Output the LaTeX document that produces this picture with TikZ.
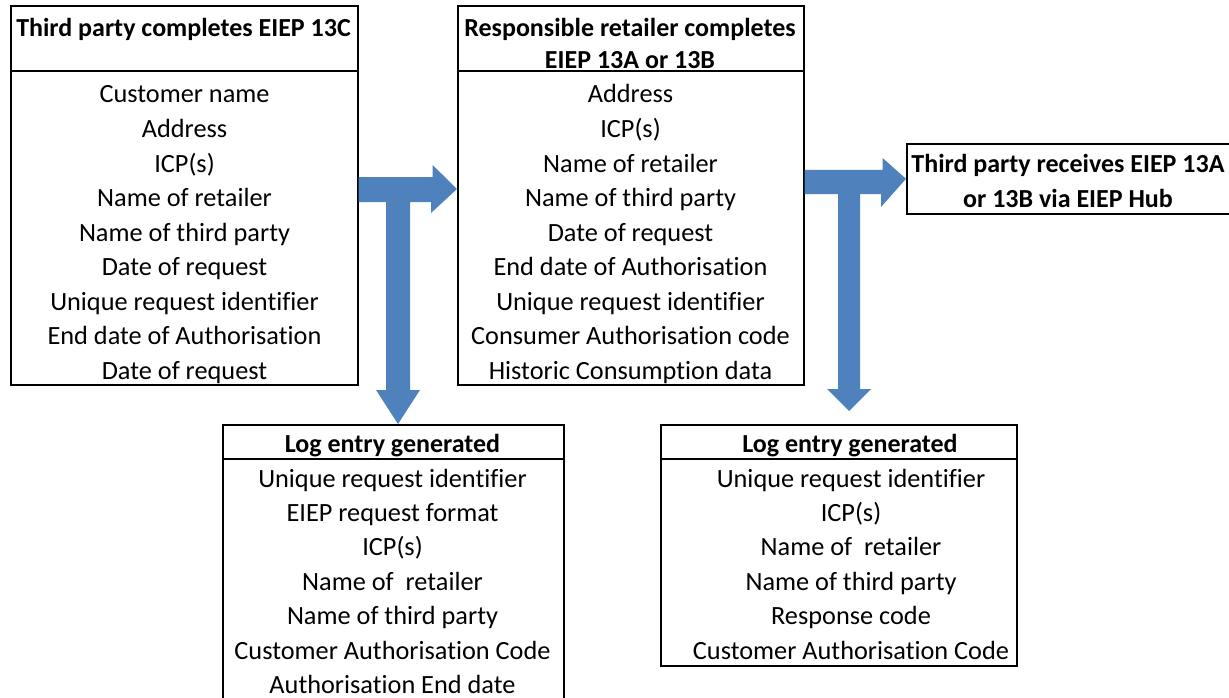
\documentclass[tikz,border=0pt]{standalone}
\usepackage{fontspec}
\setmainfont[Ligatures=NoCommon]{Carlito}
\definecolor{flowblue}{HTML}{4F81BD}
\begin{document}
\begin{tikzpicture}[x=1pt,y=-1pt,
  box/.style={draw,line width=1.6pt,inner sep=0pt,anchor=north west},
  item/.style={anchor=base,inner sep=0pt,font=\fontsize{26.3}{31}\selectfont},
  head/.style={item,font=\fontsize{26}{31}\selectfont\bfseries},
  sep/.style={line width=1.6pt},
  flow/.style={fill=flowblue,draw=none}]
\useasboundingbox (0,0) rectangle (1229,698);
\clip (0,0) rectangle (1229,698);

% request form filled in by the third party
\node[box,minimum width=347pt,minimum height=379pt] (b1) at (10,5) {};
\draw[sep] (10,71) -- (357,71);
\node[head] (h1) at (183.5,37) {Third party completes EIEP 13C};
\foreach \t [count=\i] in {Customer name,Address,ICP(s),Name of retailer,Name of third party,Date of request,Unique request identifier,End date of Authorisation,Date of request}
  \node[item] (b1-\i) at (184.5,{103+34.5*(\i-1)}) {\t};

% response filled in by the retailer
\node[box,minimum width=346pt,minimum height=379pt] (b2) at (457,5) {};
\draw[sep] (457,71) -- (803,71);
\node[head] (h2a) at (630,37) {Responsible retailer completes};
\node[head] (h2b) at (630,69) {EIEP 13A or 13B};
\foreach \t [count=\i] in {Address,ICP(s),Name of retailer,Name of third party,Date of request,End date of Authorisation,Unique request identifier,Consumer Authorisation code,Historic Consumption data}
  \node[item] (b2-\i) at (630.5,{103+34.5*(\i-1)}) {\t};

% delivery to the third party
\node[box,minimum width=330pt,minimum height=70pt] (b3) at (906,143) {};
\node[head] (h3a) at (1068,172) {Third party receives EIEP 13A};
\node[head] (h3b) at (1068,207) {or 13B via EIEP Hub};

% log entry for the request
\node[box,minimum width=341pt,minimum height=290pt] (b4) at (222,424) {};
\draw[sep] (222,459) -- (563,459);
\node[head] (h4) at (392.5,452) {Log entry generated};
\foreach \t [count=\i] in {Unique request identifier,EIEP request format,ICP(s),Name of~ retailer,Name of third party,Customer Authorisation Code,Authorisation End date}
  \node[item] (b4-\i) at (392.5,{487+34.4*(\i-1)}) {\t};

% log entry for the response
\node[box,minimum width=356pt,minimum height=241pt] (b5) at (660,424) {};
\draw[sep] (660,459) -- (1016,459);
\node[head] (h5) at (850,452) {Log entry generated};
\foreach \t [count=\i] in {Unique request identifier,ICP(s),Name of~ retailer,Name of third party,Response code,Customer Authorisation Code}
  \node[item] (b5-\i) at (851,{487+34.4*(\i-1)}) {\t};

% T-shaped arrow: request form -> retailer, and down to the request log
\fill[flow] (b1.north east) ++(0,172) -- ++(74,0) -- ++(0,-12) -- (b2.west |- 0,189)
  -- (431,213) -- ++(0,-11) -- ++(-21,0) -- ++(0,188) -- ++(10,0) -- (b4.north -| 398,413)
  -- (376,390) -- ++(10,0) -- ++(0,-188) -- (b1.east |- 0,202) -- cycle;

% T-shaped arrow: retailer -> third party, and down to the response log
\fill[flow] (b2.north east) ++(0,165) -- ++(78,0) -- ++(0,-12) -- (b3.west)
  -- (881,207) -- ++(0,-13) -- ++(-21,0) -- ++(0,195) -- ++(11,0) -- (849,411)
  -- (827,389) -- ++(11,0) -- ++(0,-195) -- (b2.east |- 0,194) -- cycle;
\end{tikzpicture}
\end{document}
